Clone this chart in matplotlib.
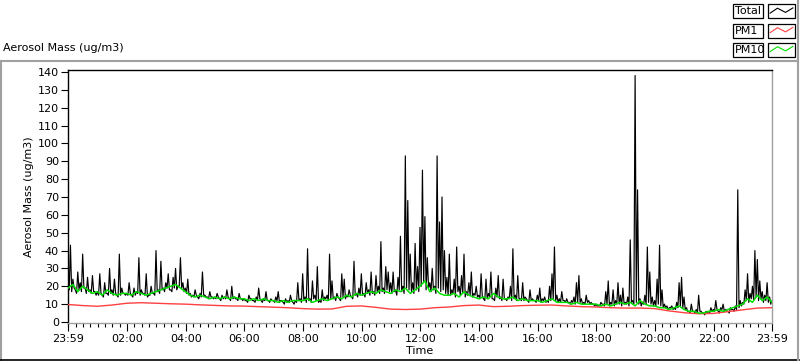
import matplotlib
matplotlib.use('Agg')
import matplotlib.pyplot as plt
from matplotlib.lines import Line2D
from matplotlib.patches import Rectangle
from matplotlib.ticker import FixedLocator, FuncFormatter
import numpy as np

plt.rcParams['font.family'] = ['DejaVu Sans']
plt.rcParams['font.size'] = 7.5

W, H = 800, 361

# Total aerosol mass, 5 min steps from 23:59 (one row per hour): peak in each step
total = [
    20, 43, 24, 18, 28, 22, 38, 19, 25, 18, 26, 17,
    17, 27, 15, 22, 16, 30, 18, 24, 15, 38, 19, 16,
    16, 22, 15, 19, 17, 36, 18, 16, 27, 15, 20, 16,
    40, 18, 34, 19, 22, 27, 18, 25, 30, 20, 36, 22,
    19, 24, 16, 15, 18, 14, 16, 28, 15, 14, 17, 14,
    14, 16, 13, 15, 14, 18, 13, 20, 14, 13, 16, 13,
    13, 12, 15, 13, 12, 14, 19, 12, 13, 17, 12, 13,
    12, 14, 17, 12, 11, 13, 12, 15, 11, 12, 22, 13,
    27, 14, 41, 13, 23, 15, 31, 12, 18, 14, 15, 38,
    23, 14, 16, 13, 27, 24, 15, 18, 14, 34, 16, 19,
    27, 16, 22, 18, 28, 17, 26, 20, 45, 19, 31, 28,
    22, 28, 18, 25, 48, 20, 93, 68, 38, 22, 44, 31,
    53, 85, 59, 36, 22, 30, 20, 93, 56, 70, 40, 25,
    38, 18, 24, 42, 20, 26, 38, 17, 22, 28, 16, 20,
    15, 27, 13, 24, 16, 28, 13, 19, 26, 14, 24, 13,
    14, 20, 41, 15, 26, 13, 22, 14, 12, 18, 13, 12,
    15, 19, 13, 14, 12, 20, 27, 42, 15, 13, 17, 12,
    13, 11, 12, 14, 22, 26, 13, 11, 15, 12, 11, 10,
    10, 9, 11, 10, 17, 23, 11, 18, 12, 22, 15, 19,
    11, 14, 46, 12, 138, 74, 13, 11, 15, 42, 28, 14,
    12, 24, 43, 18, 10, 9, 8, 9, 8, 11, 22, 25,
    14, 8, 6, 10, 6, 7, 15, 6, 5, 6, 5, 8,
    7, 12, 6, 8, 10, 7, 6, 8, 7, 9, 74, 12,
    11, 18, 27, 16, 20, 40, 35, 23, 17, 15, 22, 14, 12,
]

# Total, lowest reading in the second half of each 5 min step
total_low = [
    18, 17, 19, 16, 18, 17, 19, 16, 17, 16, 17, 15,
    15, 16, 14, 16, 15, 16, 15, 16, 14, 15, 16, 15,
    15, 16, 14, 15, 16, 15, 16, 15, 14, 15, 16, 15,
    17, 16, 18, 17, 19, 18, 17, 19, 18, 20, 19, 17,
    16, 15, 14, 14, 15, 13, 14, 15, 14, 13, 14, 13,
    13, 14, 12, 13, 13, 14, 12, 13, 13, 12, 13, 12,
    12, 11, 13, 12, 11, 12, 13, 11, 12, 12, 11, 12,
    11, 12, 11, 12, 10, 11, 11, 12, 10, 11, 12, 11,
    12, 11, 12, 11, 13, 12, 11, 11, 12, 13, 12, 13,
    13, 12, 14, 12, 14, 13, 14, 15, 13, 15, 14, 15,
    15, 14, 16, 15, 16, 15, 17, 16, 17, 16, 18, 17,
    16, 17, 15, 18, 17, 16, 19, 18, 17, 16, 18, 17,
    20, 22, 18, 19, 17, 18, 16, 19, 17, 18, 16, 15,
    15, 16, 14, 17, 15, 16, 14, 15, 15, 14, 15, 14,
    13, 14, 12, 13, 14, 13, 12, 14, 13, 12, 13, 12,
    13, 12, 13, 12, 13, 12, 12, 13, 11, 12, 12, 11,
    12, 11, 12, 11, 11, 12, 13, 12, 11, 11, 12, 11,
    11, 10, 11, 10, 11, 11, 10, 10, 11, 10, 10, 9,
    9, 9, 10, 9, 10, 9, 10, 9, 10, 10, 9, 10,
    10, 9, 11, 10, 11, 10, 9, 10, 10, 11, 10, 9,
    9, 10, 9, 8, 8, 7, 8, 7, 7, 8, 9, 8,
    7, 6, 5, 6, 5, 5, 6, 5, 4, 5, 5, 6,
    6, 7, 5, 7, 6, 6, 5, 7, 6, 7, 8, 9,
    10, 12, 11, 13, 12, 14, 12, 13, 11, 12, 11, 10,
]

# PM10, 10 min steps
pm10 = [
    19, 21, 17, 20, 18, 16,
    17, 15, 18, 16, 15, 16,
    16, 15, 17, 16, 15, 16,
    17, 18, 19, 20, 21, 19,
    17, 15, 14, 15, 14, 13,
    14, 13, 14, 13, 14, 13,
    13, 12, 13, 12, 13, 12,
    12, 11, 12, 11, 12, 12,
    12, 13, 11, 12, 13, 12,
    13, 14, 13, 15, 14, 16,
    15, 16, 17, 16, 18, 17,
    16, 18, 17, 19, 16, 18,
    20, 23, 17, 19, 16, 15,
    15, 16, 14, 17, 15, 14,
    13, 14, 13, 16, 14, 13,
    13, 14, 12, 13, 12, 12,
    12, 11, 12, 13, 11, 11,
    11, 10, 11, 10, 10, 10,
    10, 9, 10, 9, 10, 11,
    10, 11, 9, 12, 10, 9,
    9, 8, 8, 7, 8, 9,
    7, 6, 6, 5, 5, 6,
    6, 7, 6, 7, 8, 9,
    10, 13, 11, 15, 12, 14, 11,
]

# PM1, 30 min steps
pm1 = [
    9.8, 9.2, 8.8, 9.5, 10.5, 10.8, 10.5, 10.2, 10.0, 9.6, 9.3, 9.0,
    8.9, 8.6, 8.3, 8.0, 7.5, 7.2, 7.3, 8.8, 9.0, 8.2, 7.2, 7.0,
    7.2, 8.0, 8.4, 9.2, 9.5, 8.6, 8.8, 9.2, 9.4, 9.5, 9.0, 8.6,
    8.4, 8.0, 7.8, 7.8, 7.5, 6.2, 5.2, 4.6, 4.8, 5.8, 6.8, 7.8, 8.0,
]

# peaks on the 5 min marks, lows half way between them
n = len(total_low)
t_total = np.empty(2 * n + 1)
t_total[0::2] = np.arange(n + 1) * 5
t_total[1::2] = np.arange(n) * 5 + 2.5
v_total = np.empty(2 * n + 1)
v_total[0::2] = total
v_total[1::2] = total_low

t_pm10 = np.arange(len(pm10)) * 10
t_pm1 = np.arange(len(pm1)) * 30

major_min = [0] + list(range(121, 1440, 120)) + [1440]
minor_min = list(range(1, 1440, 15))


def clock(m, pos=None):
    m = int(round(m + 23 * 60 + 59)) % 1440
    return '%02d:%02d' % (m // 60, m % 60)


def fx(x):
    return x / W


def fy(y):
    return 1 - y / H


fig = plt.figure(figsize=(W / 100, H / 100), dpi=100)
ax = fig.add_axes([fx(68), fy(323), (772 - 68) / W, (323 - 70) / H])

ax.plot(t_total, v_total, color='black', lw=0.85, zorder=2)
ax.plot(t_pm1, pm1, color='#ff4040', lw=1.0, zorder=3)
ax.plot(t_pm10, pm10, color='#00e000', lw=1.1, zorder=4)

ax.set_xlim(0, 1440)
ax.set_ylim(-0.56, 141.1)
ax.set_yticks(range(0, 141, 10))
ax.xaxis.set_major_locator(FixedLocator(major_min))
ax.xaxis.set_minor_locator(FixedLocator(minor_min))
ax.xaxis.set_major_formatter(FuncFormatter(clock))

ax.tick_params(axis='y', direction='out', length=5, width=0.8, pad=1.5, labelsize=8)
ax.tick_params(axis='x', which='major', direction='out', length=6, width=0.8, pad=2, labelsize=8)
ax.tick_params(axis='x', which='minor', direction='out', length=3, width=0.8)

for side in ['left', 'top']:
    ax.spines[side].set_color('black')
for side in ['right', 'bottom']:
    ax.spines[side].set_color('#a0a0a0')
for s in ax.spines.values():
    s.set_linewidth(1.0)

ax.set_ylabel('Aerosol Mass (ug/m3)', fontsize=8, labelpad=3)
ax.set_xlabel('Time', fontsize=8, labelpad=1)

# panel frame
fig.add_artist(Line2D([fx(0), fx(798)], [fy(61), fy(61)], color='#a0a0a0', lw=1.5))
fig.add_artist(Line2D([fx(1), fx(1)], [fy(61), fy(360)], color='#a0a0a0', lw=1.5))
fig.add_artist(Line2D([fx(0), fx(799)], [fy(359.5), fy(359.5)], color='black', lw=1.2))
fig.add_artist(Line2D([fx(798), fx(798)], [fy(0), fy(360)], color='#a0a0a0', lw=1.5))

fig.text(fx(3), fy(48), 'Aerosol Mass (ug/m3)', fontsize=8, ha='left', va='center')

# legend
names = ['Total', 'PM1', 'PM10']
colors = ['black', '#ff4040', '#00e000']
rows_top = [4, 23.5, 42.5]
wave_x = [0.08, 0.35, 0.65, 0.92]
wave_y = [0.35, 0.7, 0.4, 0.72]
for name, col, top in zip(names, colors, rows_top):
    bot = top + 14
    fig.add_artist(Rectangle((fx(733), fy(bot)), 30 / W, 14 / H, fill=False,
                             edgecolor='black', lw=0.9))
    fig.text(fx(735), fy(top + 7.3), name, fontsize=8, ha='left', va='center')
    fig.add_artist(Rectangle((fx(768), fy(bot)), 27 / W, 14 / H, fill=False,
                             edgecolor='black', lw=0.9))
    lx = [fx(768 + 27 * v) for v in wave_x]
    ly = [fy(bot - 14 * v) for v in wave_y]
    fig.add_artist(Line2D(lx, ly, color=col, lw=0.8))

fig.savefig('out.png', dpi=100)
